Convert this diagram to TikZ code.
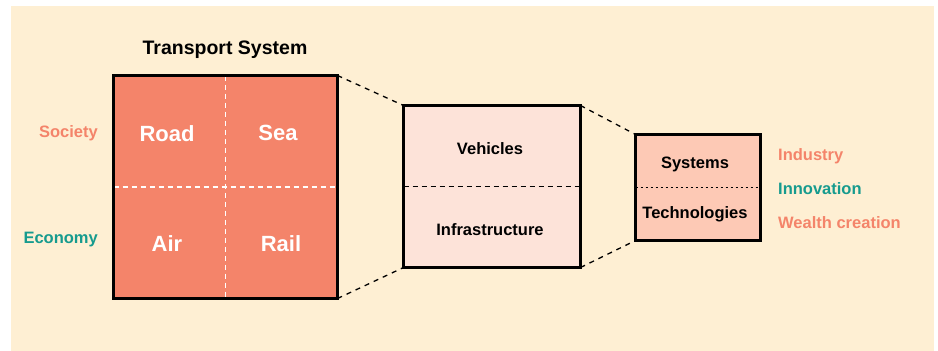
\documentclass[tikz,border=0pt]{standalone}
\usepackage{fontspec}
\setmainfont{Liberation Sans}
\begin{document}
\begin{tikzpicture}[x=1pt,y=-1pt,
  lbl/.style={font=\fontsize{16.5}{18}\selectfont\bfseries, inner sep=0pt, yshift=-1.2pt},
  big/.style={font=\fontsize{22}{24}\selectfont\bfseries, text=white, inner sep=0pt, yshift=-1.2pt},
  boxline/.style={draw=black, line width=3pt, inner sep=0pt, outer sep=0pt, anchor=north west},
  conn/.style={draw=black, line width=1.3pt, dash pattern=on 5pt off 5pt}]
\definecolor{bg}{HTML}{FEEFD3}
\definecolor{salmon}{HTML}{F4846A}
\definecolor{pale}{HTML}{FDE3D9}
\definecolor{mid}{HTML}{FDC9B5}
\definecolor{teal}{HTML}{169B8E}
\useasboundingbox (0,0) rectangle (938,351);
\fill[white] (0,0) rectangle (938,351);
\fill[bg] (11,6) rectangle (934,351);
% big box
\node[boxline, fill=salmon, minimum width=224pt, minimum height=223pt] (ts) at (113.5,75.5) {};
\draw[white, line width=1.2pt, dash pattern=on 5pt off 4pt] (ts.north) -- (ts.south);
\draw[white, line width=1.2pt, dash pattern=on 5pt off 4pt] (ts.west) -- (ts.east);
\draw[draw=black, line width=3pt] (ts.north west) rectangle (ts.south east);
\node[font=\fontsize{19.5}{22}\selectfont\bfseries, inner sep=0pt, yshift=-1.2pt] (title) at (225,49) {Transport System};
\node[big] (road) at (167,132) {Road};
\node[big] (sea) at (278,132) {Sea};
\node[big] (air) at (167,242) {Air};
\node[big] (rail) at (281,242) {Rail};
\node[lbl, text=salmon, anchor=east] (soc) at (98,132) {Society};
\node[lbl, text=teal, anchor=east] (eco) at (98,238) {Economy};
% middle box
\node[boxline, fill=pale, minimum width=177pt, minimum height=162pt] (vi) at (403.5,105.5) {};
\draw[black, line width=1.3pt, dash pattern=on 5pt off 4pt] (vi.west) -- (vi.east);
\node[lbl] (veh) at (490,147) {Vehicles};
\node[lbl] (inf) at (490,228) {Infrastructure};
% small box
\node[boxline, fill=mid, minimum width=125pt, minimum height=106pt] (st) at (635.5,134.5) {};
\draw[black, line width=1.1pt, dash pattern=on 2.5pt off 2.5pt] (st.west) -- (st.east);
\node[lbl] (sys) at (695,163) {Systems};
\node[lbl] (tech) at (695,213) {Technologies};
\node[lbl, text=salmon, anchor=west] (ind) at (778,155) {Industry};
\node[lbl, text=teal, anchor=west] (inn) at (778,187) {Innovation};
\node[lbl, text=salmon, anchor=west] (wc) at (778,221) {Wealth creation};
% connectors
\draw[conn] (ts.north east) -- (vi.north west);
\draw[conn] (ts.south east) -- (vi.south west);
\draw[conn] (vi.north east) -- (st.north west);
\draw[conn] (vi.south east) -- (st.south west);
\end{tikzpicture}
\end{document}
